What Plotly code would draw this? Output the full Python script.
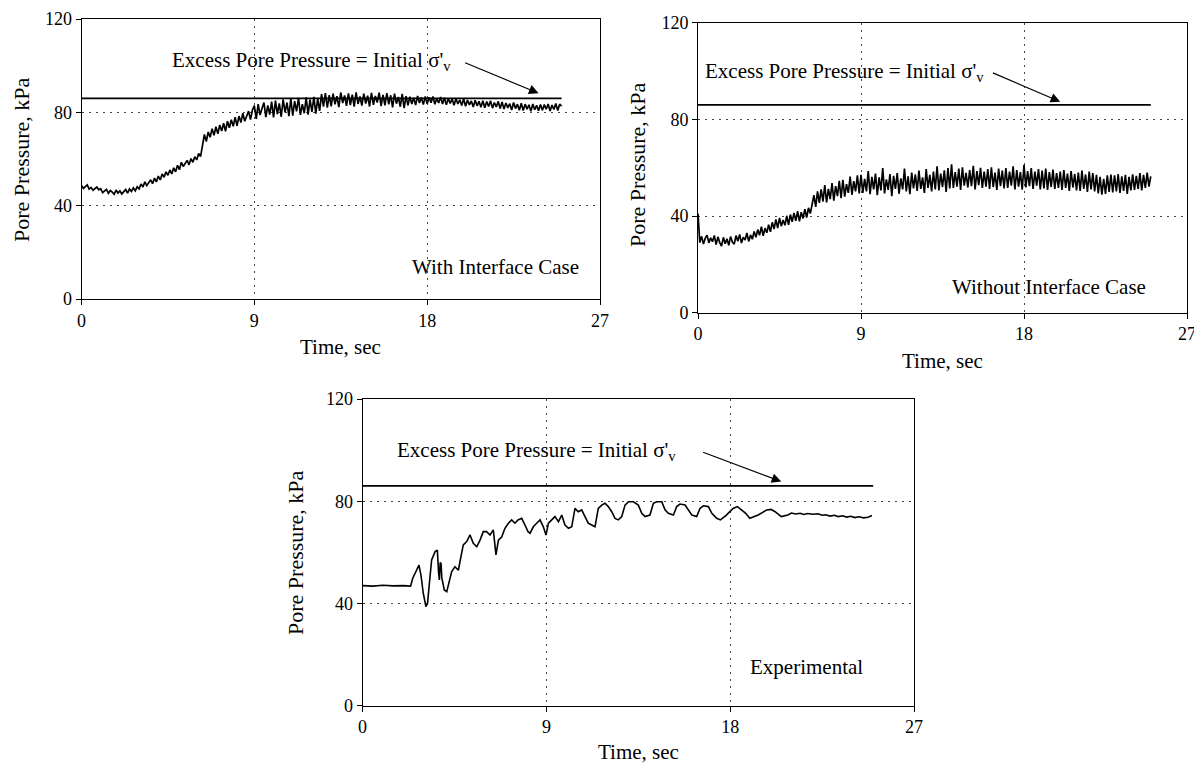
import numpy as np
import plotly.graph_objects as go

# ---------------- data ----------------
sample_step = 0.1  # s between samples of the numerical records

# With interface case (pore pressure, kPa), one row per second
with_interface = [
    48.6, 47.4, 48.2, 48.9, 47.1, 47.8, 46.6, 47.5, 48.0, 46.8,
    47.3, 45.6, 46.2, 47.0, 45.3, 46.5, 45.8, 44.9, 46.7, 45.4,
    46.3, 45.0, 46.0, 46.9, 45.4, 47.2, 46.1, 47.6, 46.4, 48.1,
    47.2, 49.3, 48.0, 50.2, 48.6, 49.9, 51.1, 49.4, 51.8, 50.2,
    52.7, 51.0, 53.6, 52.2, 54.5, 53.0, 55.3, 53.6, 56.2, 54.5,
    57.3, 55.4, 58.6, 56.8, 58.1, 59.4, 57.5, 60.2, 58.6, 61.0,
    59.6, 62.4, 61.0, 66.0, 70.5, 67.5, 71.6, 69.3, 73.0, 70.2,
    73.8, 70.8, 74.6, 72.0, 75.3, 71.9, 76.2, 73.4, 76.8, 74.0,
    77.9, 74.2, 78.4, 75.6, 79.6, 76.2, 78.8, 80.5, 76.9, 81.0,
    82.9, 77.2, 83.5, 78.8, 81.6, 84.2, 77.9, 83.0, 79.0, 84.6,
    77.8, 85.0, 79.2, 83.8, 78.1, 85.6, 80.0, 84.2, 78.4, 85.9,
    78.6, 84.8, 80.4, 86.2, 78.9, 83.5, 79.6, 86.4, 79.0, 85.5,
    80.2, 86.6, 79.4, 85.9, 80.6, 87.8, 82.4, 88.2, 82.0, 87.4,
    82.6, 88.0, 83.4, 86.9, 82.2, 88.5, 84.0, 87.2, 82.8, 88.1,
    83.1, 87.6, 82.4, 88.6, 83.6, 86.8, 82.9, 88.0, 83.8, 87.1,
    82.5, 88.3, 83.2, 87.0, 84.2, 88.4, 82.7, 87.5, 83.0, 88.2,
    83.4, 87.3, 82.1, 88.0, 83.7, 86.6, 82.4, 87.9, 81.8, 86.9,
    83.0, 86.7, 83.6, 86.2, 83.1, 87.0, 84.0, 86.4, 83.3, 86.8,
    83.7, 86.5, 84.1, 86.8, 83.5, 85.9, 84.0, 86.6, 83.6, 86.2,
    83.2, 86.0, 83.8, 85.7, 83.0, 85.9, 83.6, 85.4, 82.9, 85.8,
    82.6, 85.3, 83.2, 84.9, 82.3, 85.2, 82.8, 84.7, 82.2, 85.0,
    82.0, 84.6, 82.5, 84.9, 81.8, 84.2, 82.3, 84.7, 81.6, 84.4,
    81.4, 84.0, 81.9, 83.7, 81.0, 84.2, 81.6, 83.5, 80.9, 83.9,
    80.8, 83.5, 81.4, 83.2, 80.5, 83.6, 81.1, 83.0, 80.7, 83.4,
    80.9, 83.3, 81.3, 83.6, 80.6, 83.1, 81.2, 83.8, 80.8, 83.5,
    82.6,
]

# Without interface case (pore pressure, kPa), one row per second
without_interface = [
    41.0, 29.0, 31.6, 28.4, 30.8, 32.1, 28.9, 31.0, 29.4, 32.0,
    28.2, 31.4, 29.0, 27.6, 31.2, 28.5, 30.6, 27.9, 31.5, 29.2,
    28.4, 31.9, 29.6, 32.4, 28.8, 31.2, 30.1, 33.0, 29.5, 32.2,
    30.4, 33.6, 31.2, 34.4, 32.0, 35.6, 31.8, 35.0, 33.1, 36.4,
    33.5, 37.4, 34.6, 38.6, 35.0, 39.2, 35.8, 38.4, 36.2, 40.1,
    36.4, 40.6, 37.6, 41.3, 38.0, 42.0, 37.8, 41.6, 39.0, 42.8,
    39.4, 43.4, 41.0, 44.8, 48.6, 43.8, 50.2, 45.4, 51.0, 46.0,
    52.8, 45.6, 51.2, 47.0, 53.6, 46.4, 52.4, 48.2, 54.6, 47.4,
    55.0, 48.0, 53.2, 49.6, 56.3, 48.8, 54.4, 50.2, 56.8, 49.4,
    57.0, 49.6, 55.4, 50.2, 58.6, 49.0, 56.2, 51.0, 57.6, 48.6,
    56.0, 50.6, 59.8, 49.4, 55.2, 50.8, 57.4, 48.2, 56.6, 51.2,
    57.8, 49.2, 55.6, 51.0, 59.6, 50.2, 56.4, 49.0, 58.0, 51.4,
    57.2, 50.4, 58.8, 51.2, 56.0, 49.6, 59.4, 51.6, 57.0, 50.2,
    58.4, 51.0, 60.6, 50.6, 57.6, 52.0, 58.9, 50.0, 59.8, 51.4,
    61.4, 51.6, 58.2, 52.2, 59.6, 50.8, 60.2, 52.6, 57.9, 51.8,
    59.0, 52.4, 60.8, 51.0, 58.6, 52.8, 59.9, 51.6, 58.4, 52.2,
    59.4, 51.2, 60.2, 52.0, 58.0, 50.8, 59.6, 52.4, 58.8, 51.4,
    59.8, 51.6, 58.4, 52.6, 60.6, 51.0, 59.0, 52.2, 58.2, 50.9,
    61.2, 51.8, 58.6, 52.4, 59.8, 51.2, 58.4, 52.6, 59.4, 51.0,
    58.8, 51.4, 59.6, 50.8, 58.2, 52.0, 59.2, 51.2, 57.8, 51.6,
    58.4, 50.8, 59.0, 51.6, 57.6, 50.4, 58.6, 51.8, 57.4, 50.6,
    58.0, 50.4, 58.8, 51.2, 57.2, 50.0, 58.4, 51.0, 57.8, 50.2,
    57.0, 49.4, 56.2, 48.8, 55.4, 49.2, 56.8, 50.0, 57.2, 49.8,
    56.8, 50.2, 57.4, 49.6, 56.4, 50.4, 57.0, 49.2, 56.2, 50.6,
    57.2, 50.8, 56.6, 51.2, 57.8, 50.6, 57.0, 51.6, 58.0, 52.2,
    56.4,
]

# Experimental record
exp_time = [
    0.0, 0.5, 1.0, 1.5, 2.0, 2.35, 2.45, 2.65, 2.76, 2.86,
    2.97, 3.10, 3.18, 3.27, 3.38, 3.55, 3.66, 3.72, 3.76, 3.80,
    3.84, 3.88, 3.92, 4.00, 4.12, 4.25, 4.36, 4.52, 4.69, 4.80,
    4.93, 5.10, 5.26, 5.42, 5.59, 5.75, 5.91, 6.07, 6.24, 6.40,
    6.53, 6.65, 6.81, 6.97, 7.14, 7.30, 7.46, 7.61, 7.79, 7.95,
    8.10, 8.20, 8.36, 8.52, 8.69, 8.85, 8.98, 9.10, 9.26, 9.42,
    9.59, 9.75, 9.91, 10.08, 10.24, 10.40, 10.56, 10.73, 10.89, 11.05,
    11.22, 11.38, 11.54, 11.71, 11.87, 12.03, 12.20, 12.36, 12.52, 12.69,
    12.85, 13.02, 13.26, 13.50, 13.67, 13.83, 14.07, 14.24, 14.40, 14.65,
    14.81, 14.97, 15.22, 15.38, 15.54, 15.79, 15.95, 16.12, 16.36, 16.52,
    16.69, 16.93, 17.10, 17.34, 17.52, 17.80, 18.14, 18.35, 18.76, 18.96,
    19.37, 19.79, 20.00, 20.20, 20.50, 20.82, 21.00, 21.20, 21.43, 21.60,
    21.80, 22.05, 22.30, 22.50, 22.67, 22.90, 23.10, 23.29, 23.50, 23.70,
    23.91, 24.10, 24.30, 24.53, 24.75, 24.94,
]
exp_pressure = [
    47.0, 46.8, 47.1, 46.9, 47.0, 46.8, 49.8, 53.0, 55.0, 51.0,
    44.0, 38.8, 40.0, 47.9, 57.0, 60.3, 60.9, 52.0, 49.2, 56.0,
    55.7, 50.0, 48.5, 45.3, 44.6, 49.2, 52.4, 54.4, 53.0, 57.7,
    62.9, 64.2, 66.8, 63.5, 62.2, 64.8, 68.1, 68.1, 66.8, 68.8,
    59.0, 64.8, 66.0, 69.4, 71.4, 72.7, 71.4, 72.7, 73.3, 70.7,
    68.1, 67.5, 70.0, 71.4, 72.7, 70.0, 66.8, 71.4, 72.7, 74.0,
    72.0, 74.6, 70.7, 69.4, 70.0, 77.2, 75.9, 76.6, 74.0, 71.4,
    70.7, 70.0, 77.2, 78.5, 79.2, 77.9, 75.9, 73.3, 72.7, 74.0,
    78.5, 79.8, 79.8, 78.5, 75.3, 74.0, 74.6, 79.2, 79.8, 79.8,
    76.6, 75.3, 74.6, 77.9, 78.9, 78.5, 76.6, 74.6, 74.0, 77.2,
    78.2, 77.9, 75.3, 73.3, 72.7, 74.5, 77.2, 77.9, 75.3, 73.3,
    74.6, 76.6, 76.8, 75.9, 74.0, 74.6, 75.4, 75.0, 75.3, 74.8,
    75.2, 74.9, 75.1, 74.5, 74.7, 74.2, 74.5, 74.0, 74.3, 73.8,
    74.1, 73.6, 73.9, 73.5, 73.7, 74.4,
]

excess_level = 86.0          # kPa, initial effective vertical stress
excess_span = [0.0, 25.0]    # s

x_ticks = [0, 9, 18, 27]
y_ticks = [0, 40, 80, 120]

# ---------------- figure ----------------
FONT = "Liberation Serif, Times New Roman, Times, serif"
W, H = 1202, 765
PAGE_OFFSET = 8  # default page margin around the plot div


def fx(px):
    return (px - PAGE_OFFSET) / W


def fy(py):
    return 1 - (py - PAGE_OFFSET) / H


t_with = np.arange(len(with_interface)) * sample_step
t_without = np.arange(len(without_interface)) * sample_step

fig = go.Figure()

series = [
    (t_with, with_interface, "x", "y", 1.7),
    (t_without, without_interface, "x2", "y2", 1.7),
    (exp_time, exp_pressure, "x3", "y3", 1.6),
]
for xs, ys, xa, ya, w in series:
    fig.add_trace(go.Scatter(x=xs, y=ys, mode="lines", xaxis=xa, yaxis=ya,
                             line=dict(color="black", width=w), showlegend=False,
                             hoverinfo="skip"))
    fig.add_trace(go.Scatter(x=excess_span, y=[excess_level, excess_level],
                             mode="lines", xaxis=xa, yaxis=ya,
                             line=dict(color="black", width=1.8), showlegend=False,
                             hoverinfo="skip"))

axis_common = dict(
    showgrid=True, griddash="2px,5px", gridcolor="#444", gridwidth=1.2,
    showline=True, mirror=True, linecolor="black", linewidth=1,
    ticks="outside", ticklen=5, tickcolor="black",
    tickfont=dict(family=FONT, size=18, color="black"),
    zeroline=False, fixedrange=True, automargin=False,
)

# plot-area boxes in page pixels: (left, right, top, bottom)
boxes = {
    "": (81.5, 600, 19, 299),
    "2": (698, 1187, 22.7, 312.7),
    "3": (362.6, 914, 399, 705.7),
}
layout_axes = {}
for k, (l, r, t, b) in boxes.items():
    layout_axes["xaxis" + k] = dict(axis_common, domain=[fx(l), fx(r)], range=[0, 27],
                                    tickvals=x_ticks, anchor="y" + k)
    layout_axes["yaxis" + k] = dict(axis_common, domain=[fy(b), fy(t)], range=[0, 120],
                                    tickvals=y_ticks, anchor="x" + k)

label_text = "Excess Pore Pressure = Initial σ'<sub>v</sub>"
annotations = []


def txt(text, x, y, xref, yref, size=21, angle=0):
    annotations.append(dict(text=text, x=x, y=y, xref=xref, yref=yref,
                            showarrow=False, textangle=angle,
                            font=dict(family=FONT, size=size, color="black"),
                            xanchor="center", yanchor="middle"))


def arrow(xref, yref, tail, head):
    annotations.append(dict(text="", x=head[0], y=head[1], ax=tail[0], ay=tail[1],
                            xref=xref, yref=yref, axref=xref, ayref=yref,
                            showarrow=True, arrowhead=2, arrowsize=1.6,
                            arrowwidth=1.2, arrowcolor="black"))


# panel 1
txt(label_text, 12.0, 102.0, "x", "y")
arrow("x", "y", (19.9, 101.5), (23.8, 88.2))
txt("With Interface Case", 21.55, 13.8, "x", "y")
# panel 2
txt(label_text, 8.1, 99.5, "x2", "y2")
arrow("x2", "y2", (16.2, 99.5), (20.0, 87.3))
txt("Without Interface Case", 19.4, 10.8, "x2", "y2")
# panel 3
txt(label_text, 8.5, 99.6, "x3", "y3")
arrow("x3", "y3", (16.6, 99.4), (20.5, 87.7))
txt("Experimental", 21.75, 15.1, "x3", "y3")

# axis titles (page pixel centres)
txt("Time, sec", fx(341), fy(347), "paper", "paper", size=21)
txt("Pore Pressure, kPa", fx(22), fy(160), "paper", "paper", size=22, angle=-90)
txt("Time, sec", fx(942), fy(361), "paper", "paper", size=21)
txt("Pore Pressure, kPa", fx(638), fy(165), "paper", "paper", size=22, angle=-90)
txt("Time, sec", fx(638), fy(752), "paper", "paper", size=21)
txt("Pore Pressure, kPa", fx(295), fy(553), "paper", "paper", size=22, angle=-90)

fig.update_layout(
    width=W, height=H, autosize=False,
    margin=dict(l=0, r=0, t=0, b=0, pad=0, autoexpand=False),
    paper_bgcolor="white", plot_bgcolor="white",
    font=dict(family=FONT, color="black"),
    annotations=annotations, showlegend=False,
    **layout_axes,
)

fig.write_html("out.html")
